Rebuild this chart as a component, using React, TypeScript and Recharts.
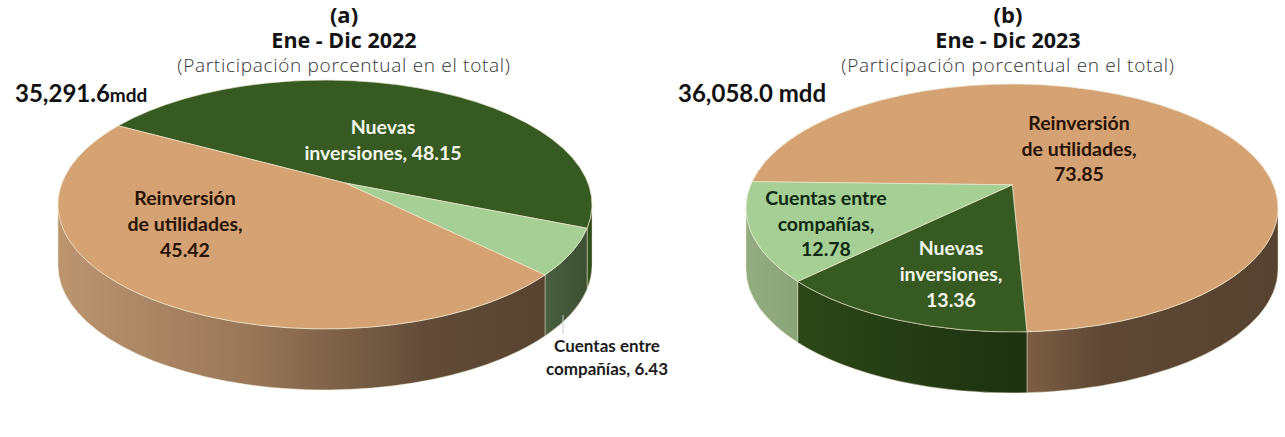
import { Pie, PieChart } from 'recharts';

const categories2022 = ['Nuevas inversiones', 'Cuentas entre compañías', 'Reinversión de utilidades'];
const values2022 = [48.15, 6.43, 45.42];
const categories2023 = ['Reinversión de utilidades', 'Nuevas inversiones', 'Cuentas entre compañías'];
const values2023 = [73.85, 13.36, 12.78];

const colors: Record<string, string> = {
  'Nuevas inversiones': '#365a22',
  'Cuentas entre compañías': '#a5cf95',
  'Reinversión de utilidades': '#d5a274'
};
const labelColors: Record<string, string> = {
  'Nuevas inversiones': '#f4f6ea',
  'Cuentas entre compañías': '#0e2a10',
  'Reinversión de utilidades': '#2a1306'
};

const LABEL_FONT = 'Lato, sans-serif';
const TITLE_FONT = '"Open Sans", sans-serif';
const SQUASH = 0.466;
const WALL_DEPTH = 61;

// wall shading, left to right
const wallStops2022 = [
  [['0', '#3a5a22'], ['1', '#2a4418']],
  [['0', '#4a5e40'], ['1', '#3d5034']],
  [['0', '#bc9470'], ['0.4', '#987658'], ['0.75', '#624c38'], ['1', '#574330']]
];
const wallStops2023 = [
  [['0', '#7c5e44'], ['0.3', '#5e4835'], ['1', '#564230']],
  [['0', '#2c4718'], ['1', '#1d3010']],
  [['0', '#94ad80'], ['1', '#8aa378']]
];

const labelLines2022 = [
  ['Nuevas', `inversiones, ${values2022[0].toFixed(2)}`],
  ['Cuentas entre', `compañías, ${values2022[1].toFixed(2)}`],
  ['Reinversión', 'de utilidades,', values2022[2].toFixed(2)]
];
const labelLines2023 = [
  ['Reinversión', 'de utilidades,', values2023[0].toFixed(2)],
  ['Nuevas', 'inversiones,', values2023[1].toFixed(2)],
  ['Cuentas entre', 'compañías,', values2023[2].toFixed(2)]
];

// first baseline and centre of each label, chart coordinates
const labelPos2022 = [
  { x: 383, y: 134, size: 19.5, gap: 26 },
  { x: 607, y: 352, size: 17, gap: 23 },
  { x: 185, y: 205, size: 19.5, gap: 26 }
];
const labelPos2023 = [
  { x: 437, y: 130, size: 19.5, gap: 25.5 },
  { x: 309, y: 255, size: 19.5, gap: 26 },
  { x: 184, y: 205, size: 19.5, gap: 25.5 }
];

const RAD = Math.PI / 180;

// the disc is seen in perspective: its centre does not sit in the middle of the ellipse.
// slide the angle round the rim so that straight radii still meet at the apex
function rimAngle(deg: number, apex: [number, number]) {
  const k = Math.hypot(apex[0], apex[1]);
  const f = (1 - Math.sqrt(1 - k * k)) / (k * k);
  const wx = apex[0] * f;
  const wy = apex[1] * f;
  const zx = Math.cos(deg * RAD);
  const zy = Math.sin(deg * RAD);
  const num = Math.atan2(zy + wy, zx + wx);
  const den = Math.atan2(wx * zy - wy * zx, 1 + wx * zx + wy * zy);
  let shown = (num - den) / RAD;
  while (shown > deg + 180) shown -= 360;
  while (shown < deg - 180) shown += 360;
  return shown;
}

function rimPoint(p: any, deg: number, dy = 0) {
  const ry = p.outerRadius * SQUASH;
  return `${p.cx + p.outerRadius * Math.cos(deg * RAD)} ${p.cy - ry * Math.sin(deg * RAD) + dy}`;
}

function topShape(apex: [number, number]) {
  return (p: any) => {
    const a = rimAngle(p.startAngle, apex);
    const b = rimAngle(p.endAngle, apex);
    const ry = p.outerRadius * SQUASH;
    const ax = p.cx + apex[0] * p.outerRadius;
    const ay = p.cy - apex[1] * ry;
    const large = Math.abs(a - b) > 180 ? 1 : 0;
    const d = `M${ax} ${ay} L${rimPoint(p, a)} A${p.outerRadius} ${ry} 0 ${large} 1 ${rimPoint(p, b)} Z`;
    return <path d={d} fill={p.fill} stroke="#efe9cf" strokeWidth={1} strokeOpacity={0.65} />;
  };
}

function wallShape(apex: [number, number], chartId: string) {
  return (p: any) => {
    const a = rimAngle(p.startAngle, apex);
    const b = rimAngle(p.endAngle, apex);
    const ry = p.outerRadius * SQUASH;
    const parts: string[] = [];
    // only the stretch of rim on the near half of the ellipse has a visible wall
    [0, -360, 360, -720].forEach((turn) => {
      const hi = Math.min(a + turn, 0);
      const lo = Math.max(b + turn, -180);
      if (hi <= lo) return;
      parts.push(
        `M${rimPoint(p, hi)} A${p.outerRadius} ${ry} 0 0 1 ${rimPoint(p, lo)}` +
          ` L${rimPoint(p, lo, WALL_DEPTH)} A${p.outerRadius} ${ry} 0 0 0 ${rimPoint(p, hi, WALL_DEPTH)} Z`
      );
    });
    if (!parts.length) return <g />;
    return (
      <path
        d={parts.join(' ')}
        fill={`url(#${chartId}-wall-${p.index})`}
        stroke="#efe9cf"
        strokeWidth={0.8}
        strokeOpacity={0.55}
      />
    );
  };
}

interface DiscProps {
  id: string;
  left: number;
  categories: string[];
  values: number[];
  wallStops: string[][][];
  labelLines: string[][];
  labelPos: { x: number; y: number; size: number; gap: number }[];
  cx: number;
  cy: number;
  radius: number;
  startAngle: number;
  apex: [number, number];
  leader?: boolean;
}

function Disc(props: DiscProps) {
  const { id, categories, values, labelLines, labelPos, apex, startAngle } = props;
  const data = categories.map((name, i) => ({ name, value: values[i], fill: colors[name] }));

  const renderLabel = (p: any) => {
    const pos = labelPos[p.index];
    const name = categories[p.index];
    return (
      <g>
        {props.leader && name.startsWith('Cuentas') && (
          <line x1={563} y1={315} x2={563} y2={334} stroke="#c9c9c9" strokeWidth={1} />
        )}
        <text
          textAnchor="middle"
          fontFamily={LABEL_FONT}
          fontWeight={700}
          fontSize={pos.size}
          fill={props.leader && name.startsWith('Cuentas') ? '#1c1c1c' : labelColors[name]}
        >
          {labelLines[p.index].map((line, j) => (
            <tspan key={j} x={pos.x} y={pos.y + j * pos.gap}>
              {line}
            </tspan>
          ))}
        </text>
      </g>
    );
  };

  return (
    <div style={{ position: 'absolute', left: props.left, top: 0 }}>
      <PieChart width={700} height={437} margin={{ top: 0, right: 0, bottom: 0, left: 0 }}>
        <defs>
          {props.wallStops.map((stops, i) => (
            <linearGradient key={i} id={`${id}-wall-${i}`} x1="0" y1="0" x2="1" y2="0">
              {stops.map(([offset, color]) => (
                <stop key={offset} offset={offset} stopColor={color} />
              ))}
            </linearGradient>
          ))}
        </defs>
        <Pie
          data={data}
          dataKey="value"
          cx={props.cx}
          cy={props.cy}
          outerRadius={props.radius}
          startAngle={startAngle}
          endAngle={startAngle - 360}
          isAnimationActive={false}
          shape={wallShape(apex, id)}
          rootTabIndex={-1}
        />
        <Pie
          data={data}
          dataKey="value"
          cx={props.cx}
          cy={props.cy}
          outerRadius={props.radius}
          startAngle={startAngle}
          endAngle={startAngle - 360}
          isAnimationActive={false}
          shape={topShape(apex)}
          label={renderLabel}
          labelLine={false}
          rootTabIndex={-1}
        />
      </PieChart>
    </div>
  );
}

const headingBase = {
  position: 'absolute',
  textAlign: 'center',
  color: '#141414',
  whiteSpace: 'nowrap',
  transform: 'translateX(-50%)'
} as const;

function Heading({ x, letter, period }: { x: number; letter: string; period: string }) {
  return (
    <>
      <div style={{ ...headingBase, left: x, top: 3, font: `700 22px/1 ${TITLE_FONT}` }}>{letter}</div>
      <div style={{ ...headingBase, left: x, top: 29, font: `700 21.5px/1 ${TITLE_FONT}` }}>{period}</div>
      <div style={{ ...headingBase, left: x, top: 56, font: `300 19px/1 ${TITLE_FONT}`, letterSpacing: 0.7, color: '#333' }}>
        (Participación porcentual en el total)
      </div>
    </>
  );
}

export default function App() {
  return (
    <div style={{ position: 'absolute', left: 0, top: 0, width: 1285, height: 437, background: '#fff', overflow: 'hidden' }}>
      <Disc
        id="a"
        left={0}
        categories={categories2022}
        values={values2022}
        wallStops={wallStops2022}
        labelLines={labelLines2022}
        labelPos={labelPos2022}
        cx={325}
        cy={204.5}
        radius={267}
        startAngle={151.5}
        apex={[0.075, 0.173]}
        leader
      />
      <Disc
        id="b"
        left={642}
        categories={categories2023}
        values={values2023}
        wallStops={wallStops2023}
        labelLines={labelLines2023}
        labelPos={labelPos2023}
        cx={370}
        cy={208}
        radius={266}
        startAngle={178.5}
        apex={[0.001, 0.187]}
      />
      <Heading x={344} letter="(a)" period="Ene - Dic 2022" />
      <Heading x={1008} letter="(b)" period="Ene - Dic 2023" />
      <div style={{ position: 'absolute', left: 15, top: 78, color: '#111', font: `700 24px ${LABEL_FONT}`, whiteSpace: 'nowrap' }}>
        35,291.6<span style={{ fontSize: 19 }}>mdd</span>
      </div>
      <div style={{ position: 'absolute', left: 678, top: 78, color: '#111', font: `700 24px ${LABEL_FONT}`, whiteSpace: 'nowrap' }}>
        36,058.0 mdd
      </div>
    </div>
  );
}
